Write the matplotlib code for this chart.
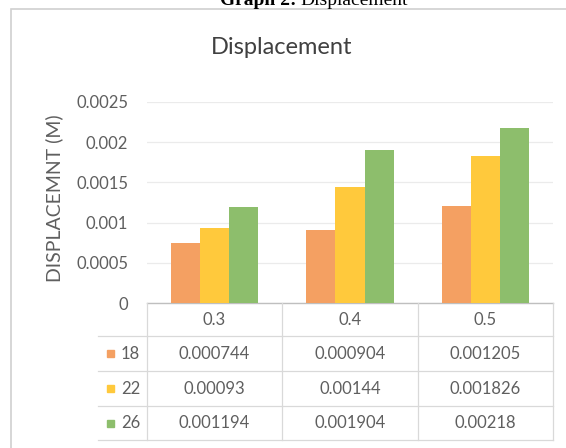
import matplotlib
matplotlib.use("Agg")
import matplotlib.pyplot as plt
import numpy as np
from matplotlib.patches import Rectangle
from matplotlib.lines import Line2D

# Data
categories = ["0.3", "0.4", "0.5"]
series_names = ["18", "22", "26"]
values_18 = [0.000744, 0.000904, 0.001205]
values_22 = [0.00093, 0.00144, 0.001826]
values_26 = [0.001194, 0.001904, 0.00218]
table_text = [
    ["0.000744", "0.000904", "0.001205"],
    ["0.00093", "0.00144", "0.001826"],
    ["0.001194", "0.001904", "0.00218"],
]
y_ticks = [0, 0.0005, 0.001, 0.0015, 0.002, 0.0025]
y_tick_labels = ["0", "0.0005", "0.001", "0.0015", "0.002", "0.0025"]
colors = ["#F4A062", "#FFC93C", "#8DBE6C"]

W, H = 566, 448
DPI = 100
fig = plt.figure(figsize=(W / DPI, H / DPI), dpi=DPI)
fig.patch.set_facecolor("white")

FONT = "Lato"
GREY = "#5F5F5F"


def fx(px):
    return px / W


def fy(py):
    return 1 - py / H


# Caption above the chart frame (partly cut off at the top edge)
fig.text(fx(297), fy(5), "Graph 2:", ha="right", va="baseline",
         family="Liberation Serif", fontweight="bold", fontsize=14, color="black")
fig.text(fx(300), fy(5), "Displacement", ha="left", va="baseline",
         family="Liberation Serif", fontsize=14, color="black")

# Chart frame
fig.add_artist(Rectangle((fx(11), fy(470)), fx(600), 461 / H,
                         transform=fig.transFigure, fill=False,
                         edgecolor="#D0D0D0", linewidth=1.2))

# Plot area
ax_left, ax_right, ax_top, ax_bot = 147, 553, 102, 303
ax = fig.add_axes([fx(ax_left), fy(ax_bot), fx(ax_right - ax_left),
                   (ax_bot - ax_top) / H])
ax.set_facecolor("none")

x = np.arange(len(categories))
bw = 0.215
for i, vals in enumerate([values_18, values_22, values_26]):
    ax.bar(x + (i - 1) * bw, vals, width=bw, color=colors[i], zorder=3)

ax.set_xlim(-0.5, len(categories) - 0.5)
ax.set_ylim(0, 0.0025)
ax.set_yticks(y_ticks)
ax.set_yticklabels(y_tick_labels, family=FONT, fontsize=12, color=GREY)
ax.set_xticks([])
ax.tick_params(axis="y", length=0, pad=13.5)
ax.grid(axis="y", color="#EBEBEB", linewidth=0.9, zorder=0)
for s in ["top", "right", "left"]:
    ax.spines[s].set_visible(False)
ax.spines["bottom"].set_color("#BFBFBF")
ax.spines["bottom"].set_linewidth(1.0)

ax.set_ylabel("DISPLACEMNT (M)", family=FONT, fontsize=14, color=GREY)
ax.yaxis.set_label_coords(fx(63 - ax_left) / fx(ax_right - ax_left), 0.52)

# Chart title
fig.text(fx(282), fy(47), "Displacement", ha="center", va="center",
         family=FONT, fontsize=17, color="#404040")

# Data table under the plot area
col_edges = [147, 282, 418, 553]
row_edges = [303, 336, 371, 406, 440]
line_kw = dict(color="#D9D9D9", linewidth=0.9, transform=fig.transFigure)
for yy in row_edges[1:]:
    fig.add_artist(Line2D([fx(98), fx(553)], [fy(yy), fy(yy)], **line_kw))
for xx in col_edges:
    fig.add_artist(Line2D([fx(xx), fx(xx)], [fy(303), fy(440)], **line_kw))

for j, cat in enumerate(categories):
    cx = (col_edges[j] + col_edges[j + 1]) / 2
    fig.text(fx(cx), fy((row_edges[0] + row_edges[1]) / 2), cat,
             ha="center", va="center", family=FONT, fontsize=12, color=GREY)

for i, name in enumerate(series_names):
    cy = (row_edges[i + 1] + row_edges[i + 2]) / 2
    sq = 7
    fig.add_artist(Rectangle((fx(107), fy(cy + sq / 2)), fx(sq), sq / H,
                             transform=fig.transFigure, color=colors[i]))
    fig.text(fx(121), fy(cy), name, ha="left", va="center",
             family=FONT, fontsize=12, color=GREY)
    for j in range(len(categories)):
        cx = (col_edges[j] + col_edges[j + 1]) / 2
        fig.text(fx(cx), fy(cy), table_text[i][j], ha="center", va="center",
                 family=FONT, fontsize=12, color=GREY)

fig.savefig("out.png", dpi=DPI)
